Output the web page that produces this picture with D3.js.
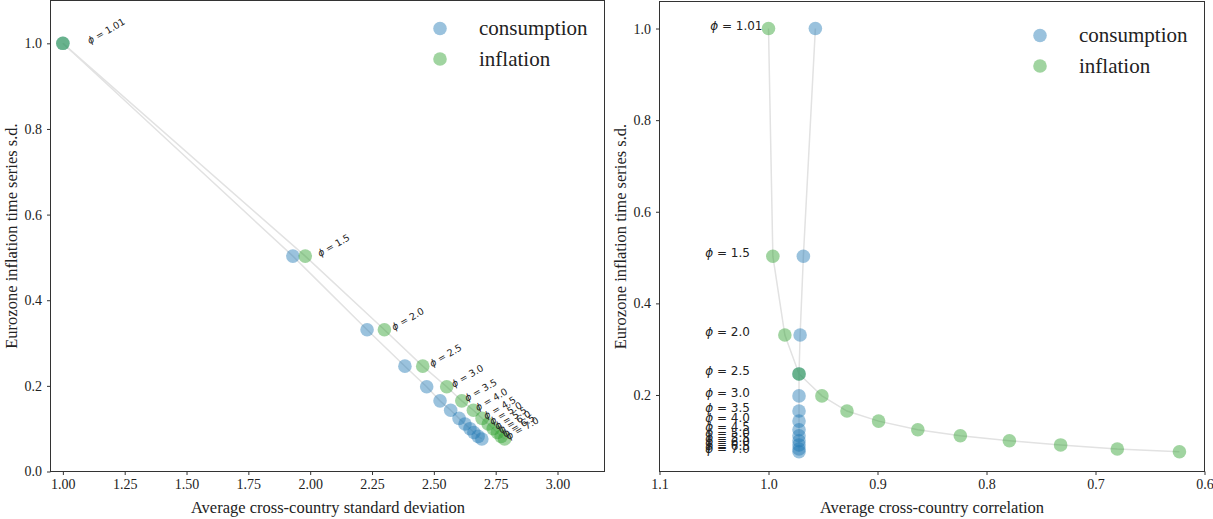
<!DOCTYPE html>
<html>
<head>
<meta charset="utf-8">
<script src="https://cdn.jsdelivr.net/npm/d3@7"></script>
<style>
  html, body { margin: 0; padding: 0; background: #fff; }
  svg { display: block; }
  .tick text { font-family: "Liberation Serif", "Times New Roman", serif; font-size: 14px; fill: #222; }
  .axis-title { font-family: "Liberation Serif", "Times New Roman", serif; font-size: 16.5px; fill: #222; }
  .legend-text { font-family: "Liberation Serif", "Times New Roman", serif; font-size: 21px; fill: #222; }
  .phi { font-family: "DejaVu Sans", sans-serif; fill: #222; }
</style>
</head>
<body>
<svg id="chart" width="1213" height="519"></svg>
<script>
// Taylor-rule coefficient on inflation, one marker pair per value
const phiLabels = ["1.01", "1.5", "2.0", "2.5", "3.0", "3.5", "4.0", "4.5", "5.0", "5.5", "6.0", "6.5", "7.0"];

// Eurozone inflation time-series standard deviation (normalised)
const inflationSD = [1.0, 0.503, 0.331, 0.246, 0.198, 0.165, 0.143, 0.124, 0.111, 0.100, 0.091, 0.082, 0.076];

// Average cross-country standard deviation
const consumptionCrossSD = [1.00, 1.93, 2.23, 2.383, 2.471, 2.525, 2.568, 2.602, 2.626, 2.646, 2.662, 2.679, 2.694];
const inflationCrossSD   = [1.00, 1.98, 2.30, 2.455, 2.552, 2.613, 2.660, 2.695, 2.720, 2.740, 2.757, 2.772, 2.786];

// Average cross-country correlation
const consumptionCorr = [0.957, 0.968, 0.971, 0.972, 0.972, 0.972, 0.972, 0.972, 0.972, 0.972, 0.972, 0.972, 0.972];
const inflationCorr   = [1.000, 0.996, 0.985, 0.972, 0.951, 0.928, 0.899, 0.863, 0.824, 0.779, 0.732, 0.680, 0.623];

// Tick values
const leftXTicks  = [1.00, 1.25, 1.50, 1.75, 2.00, 2.25, 2.50, 2.75, 3.00];
const leftYTicks  = [0.0, 0.2, 0.4, 0.6, 0.8, 1.0];
const rightXTicks = [1.1, 1.0, 0.9, 0.8, 0.7, 0.6];
const rightYTicks = [0.2, 0.4, 0.6, 0.8, 1.0];

const seriesNames = ["consumption", "inflation"];
const seriesColors = ["#1f77b4", "#2ca02c"];

const svg = d3.select("#chart");
const markerR = 6.8;
const markerOpacity = 0.45;

function drawFrame(g, x0, x1, y0, y1) {
  g.append("rect")
    .attr("x", x0).attr("y", y0)
    .attr("width", x1 - x0).attr("height", y1 - y0)
    .attr("fill", "none").attr("stroke", "#333").attr("stroke-width", 1);
}

function styleAxis(sel) {
  sel.select(".domain").remove();
  sel.selectAll(".tick line").attr("stroke", "#333");
}

function drawSeries(g, xs, ys, x, y) {
  const pts = xs.map((v, i) => [x(v), y(ys[i])]);
  g.append("path")
    .attr("d", d3.line()(pts))
    .attr("fill", "none")
    .attr("stroke", "#e2e2e2")
    .attr("stroke-width", 1.5);
}

function drawMarkers(g, xs, ys, x, y, color) {
  g.selectAll(null)
    .data(xs)
    .enter().append("circle")
    .attr("cx", d => x(d))
    .attr("cy", (d, i) => y(ys[i]))
    .attr("r", markerR)
    .attr("fill", color)
    .attr("fill-opacity", markerOpacity);
}

function drawLegend(g, lx, ly) {
  seriesNames.forEach((name, i) => {
    g.append("circle")
      .attr("cx", lx).attr("cy", ly + i * 30.5)
      .attr("r", markerR)
      .attr("fill", seriesColors[i]).attr("fill-opacity", markerOpacity);
    g.append("text")
      .attr("class", "legend-text")
      .attr("x", lx + 39).attr("y", ly + i * 30.5)
      .attr("dy", "0.32em")
      .text(name);
  });
}

function phiText(sel, label) {
  sel.append("tspan").attr("font-style", "italic").text("ϕ");
  sel.append("tspan").text(" = " + label);
}

// ---------- Left panel: cross-country s.d. ----------
{
  const L = { x0: 50.5, x1: 604.5, y0: 0.5, y1: 471.5 };
  const x = d3.scaleLinear().domain([0.95, 3.19]).range([L.x0, L.x1]);
  const y = d3.scaleLinear().domain([0, 1.1]).range([L.y1, L.y0]);
  const g = svg.append("g");

  drawSeries(g, consumptionCrossSD, inflationSD, x, y);
  drawSeries(g, inflationCrossSD, inflationSD, x, y);
  drawMarkers(g, consumptionCrossSD, inflationSD, x, y, seriesColors[0]);
  drawMarkers(g, inflationCrossSD, inflationSD, x, y, seriesColors[1]);

  // rotated phi annotations next to each consumption marker
  phiLabels.forEach((lab, i) => {
    const tx = x(consumptionCrossSD[i]) + 27;
    const ty = y(inflationSD[i]) + 1;
    const t = g.append("text")
      .attr("class", "phi")
      .attr("font-size", 9.5)
      .attr("transform", `translate(${tx},${ty}) rotate(-30)`);
    phiText(t, lab);
  });

  const gx = g.append("g").attr("transform", `translate(0,${L.y1})`)
    .call(d3.axisBottom(x).tickValues(leftXTicks).tickFormat(d3.format(".2f")).tickSize(3.5).tickPadding(4));
  styleAxis(gx);
  const gy = g.append("g").attr("transform", `translate(${L.x0},0)`)
    .call(d3.axisLeft(y).tickValues(leftYTicks).tickFormat(d3.format(".1f")).tickSize(3.5).tickPadding(5));
  styleAxis(gy);

  drawFrame(g, L.x0, L.x1, L.y0, L.y1);

  g.append("text").attr("class", "axis-title")
    .attr("x", 328).attr("y", 513).attr("text-anchor", "middle")
    .text("Average cross-country standard deviation");
  g.append("text").attr("class", "axis-title")
    .attr("transform", `translate(17,${(L.y0 + L.y1) / 2}) rotate(-90)`)
    .attr("text-anchor", "middle")
    .text("Eurozone inflation time series s.d.");

  drawLegend(g, 440, 28.5);
}

// ---------- Right panel: cross-country correlation ----------
{
  const R = { x0: 659.5, x1: 1204.5, y0: 1.5, y1: 471.5 };
  const x = d3.scaleLinear().domain([1.1, 0.6]).range([R.x0, R.x1]);
  const y = d3.scaleLinear().domain([0.033, 1.059]).range([R.y1, R.y0]);
  const g = svg.append("g");

  drawSeries(g, consumptionCorr, inflationSD, x, y);
  drawSeries(g, inflationCorr, inflationSD, x, y);
  drawMarkers(g, consumptionCorr, inflationSD, x, y, seriesColors[0]);
  drawMarkers(g, inflationCorr, inflationSD, x, y, seriesColors[1]);

  // phi annotations stacked at the left of the panel
  phiLabels.forEach((lab, i) => {
    const t = g.append("text")
      .attr("class", "phi")
      .attr("font-size", 12)
      .attr("x", x(i === 0 ? 1.0535 : 1.058))
      .attr("y", y(inflationSD[i]) + 1);
    phiText(t, lab);
  });

  const gx = g.append("g").attr("transform", `translate(0,${R.y1})`)
    .call(d3.axisBottom(x).tickValues(rightXTicks).tickFormat(d3.format(".1f")).tickSize(3.5).tickPadding(4));
  styleAxis(gx);
  const gy = g.append("g").attr("transform", `translate(${R.x0},0)`)
    .call(d3.axisLeft(y).tickValues(rightYTicks).tickFormat(d3.format(".1f")).tickSize(3.5).tickPadding(5));
  styleAxis(gy);

  drawFrame(g, R.x0, R.x1, R.y0, R.y1);

  g.append("text").attr("class", "axis-title")
    .attr("x", 932).attr("y", 513).attr("text-anchor", "middle")
    .text("Average cross-country correlation");
  g.append("text").attr("class", "axis-title")
    .attr("transform", `translate(626,${(R.y0 + R.y1) / 2}) rotate(-90)`)
    .attr("text-anchor", "middle")
    .text("Eurozone inflation time series s.d.");

  drawLegend(g, 1040, 35.5);
}
</script>
</body>
</html>
